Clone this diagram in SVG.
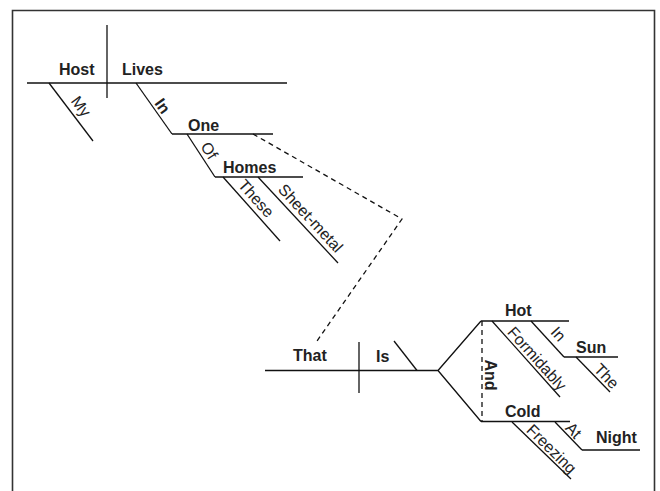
<svg xmlns="http://www.w3.org/2000/svg" width="660" height="491" viewBox="0 0 660 491">
<style>
.ln{stroke:#111;stroke-width:1.3;fill:none;stroke-linecap:butt}
.dash{stroke:#111;stroke-width:1.3;fill:none;stroke-dasharray:5 4}
.b{font-family:"Liberation Sans",Arial,sans-serif;font-size:16px;font-weight:bold;fill:#222}
.r{font-family:"Liberation Sans",Arial,sans-serif;font-size:16px;fill:#222}
</style>
<rect x="0" y="0" width="660" height="491" fill="#fff"/>
<path d="M12.5,491 V10.5 H654.5 V491" fill="none" stroke="#333" stroke-width="1.6"/>

<g id="connectors">
  <path class="dash" d="M253,134 L402,219 L317,341"/>
  <path class="ln" d="M417,370.5 H438 L481,321 M438,370.5 L481,421.5"/>
  <path class="dash" d="M482,321 V421.5" stroke-dasharray="4 4"/>
</g>

<g id="host">
  <path class="ln" d="M27,83 H107"/>
  <text class="b" x="59" y="75">Host</text>
</g>
<g id="divider1"><path class="ln" d="M107,25 V98"/></g>
<g id="lives">
  <path class="ln" d="M107,83 H287"/>
  <text class="b" x="122" y="75">Lives</text>
</g>
<g id="my">
  <path class="ln" d="M49,83 L93,141"/>
  <text class="r" transform="translate(49 83) rotate(52.8)" x="38" y="-6" text-anchor="middle">My</text>
</g>
<g id="in1">
  <path class="ln" d="M136,83 L172,134"/>
  <text class="b" transform="translate(136 83) rotate(54.8)" x="34" y="-3" text-anchor="middle">In</text>
</g>
<g id="one">
  <path class="ln" d="M172,134 H273"/>
  <text class="b" x="188" y="131">One</text>
</g>
<g id="of">
  <path class="ln" d="M187,134 L215,177"/>
  <text class="r" transform="translate(187 134) rotate(56.9)" x="26" y="-4" text-anchor="middle">Of</text>
</g>
<g id="homes">
  <path class="ln" d="M215,177 H303"/>
  <text class="b" x="223" y="173">Homes</text>
</g>
<g id="these">
  <path class="ln" d="M223,177 L280,241"/>
  <text class="r" transform="translate(223 177) rotate(48.3)" x="38" y="-5" text-anchor="middle">These</text>
</g>
<g id="sheet-metal">
  <path class="ln" d="M258,177 L338,263"/>
  <text class="r" transform="translate(258 177) rotate(47.1)" x="66" y="-5" text-anchor="middle">Sheet-metal</text>
</g>

<g id="that">
  <path class="ln" d="M265,370.5 H359"/>
  <text class="b" x="293" y="361">That</text>
</g>
<g id="divider2"><path class="ln" d="M359,342 V393"/></g>
<g id="is">
  <path class="ln" d="M359,370.5 H417"/>
  <path class="ln" d="M394,341 L417,370.5"/>
  <text class="b" x="376" y="362">Is</text>
</g>
<g id="and">
  <text class="b" transform="translate(485 375) rotate(90)" x="0" y="0" text-anchor="middle">And</text>
</g>
<g id="hot">
  <path class="ln" d="M481,321 H569"/>
  <text class="b" x="505" y="316">Hot</text>
</g>
<g id="formidably">
  <path class="ln" d="M492,321 L560,397"/>
  <text class="r" transform="translate(492 321) rotate(48.2)" x="58" y="-3" text-anchor="middle">Formidably</text>
</g>
<g id="in2">
  <path class="ln" d="M531,321 L564,357"/>
  <text class="r" transform="translate(531 321) rotate(47.5)" x="28" y="-6" text-anchor="middle">In</text>
</g>
<g id="sun">
  <path class="ln" d="M564,357 H618"/>
  <text class="b" x="576" y="353">Sun</text>
</g>
<g id="the">
  <path class="ln" d="M576,357 L610,392"/>
  <text class="r" transform="translate(576 357) rotate(45.8)" x="35" y="-3" text-anchor="middle">The</text>
</g>
<g id="cold">
  <path class="ln" d="M481,421.5 H570"/>
  <text class="b" x="505" y="417">Cold</text>
</g>
<g id="freezing">
  <path class="ln" d="M512,422 L571,479"/>
  <text class="r" transform="translate(512 422) rotate(44.5)" x="47" y="-3" text-anchor="middle">Freezing</text>
</g>
<g id="at">
  <path class="ln" d="M555,422 L582,450"/>
  <text class="r" transform="translate(555 422) rotate(46)" x="19" y="-2" text-anchor="middle">At</text>
</g>
<g id="night">
  <path class="ln" d="M582,450 H640"/>
  <text class="b" x="596" y="443">Night</text>
</g>
</svg>
